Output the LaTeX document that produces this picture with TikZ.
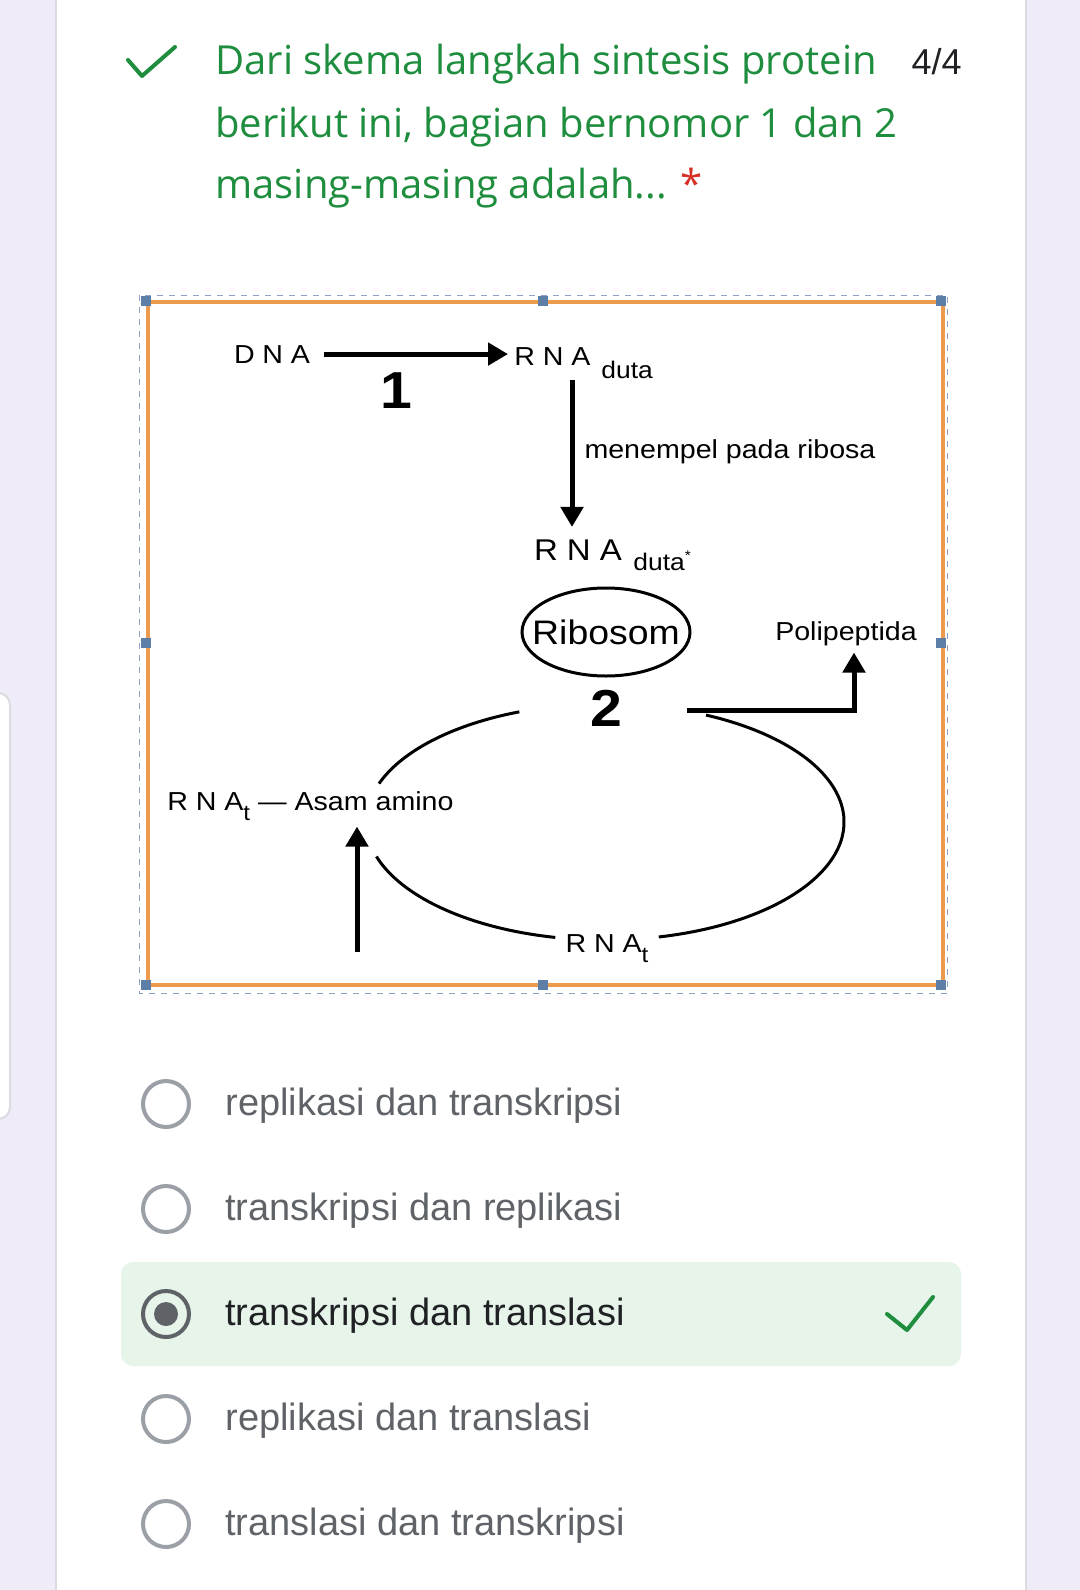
\documentclass[tikz,border=0pt]{standalone}
\usepackage{fontspec}
\setmainfont{Open Sans}
\newfontfamily\uifont{Liberation Sans}
\newfontfamily\diafont[FakeStretch=1.1]{Liberation Sans}
\newfontfamily\diaspaced[FakeStretch=1.1,LetterSpace=30]{Liberation Sans}
\usetikzlibrary{arrows.meta, shapes.geometric}

\definecolor{fondviolet}{HTML}{F0EBF8}
\definecolor{bordcarte}{HTML}{DADCE0}
\definecolor{vert}{HTML}{1E8E3E}
\definecolor{vertclair}{HTML}{E6F4EA}
\definecolor{rouge}{HTML}{D93025}
\definecolor{encre}{HTML}{202124}
\definecolor{grisopt}{HTML}{5F6368}
\definecolor{grisradio}{HTML}{9AA0A6}
\definecolor{cadreorange}{HTML}{EE9A4D}
\definecolor{poignee}{HTML}{5D7EA7}
\definecolor{pointille}{HTML}{8CA3C4}

\tikzset{
  titre/.style={anchor=base west, inner sep=0pt, text=vert, font=\fontsize{20}{24}\selectfont},
  choix/.style={anchor=base west, inner sep=0pt, text=grisopt, font=\uifont\fontsize{19}{22}\selectfont},
  radio/.style={circle, draw=grisradio, line width=2pt, minimum size=23pt, inner sep=0pt},
  etiq/.style={font=\diafont\fontsize{13}{15}\selectfont, inner sep=3pt},
  petit/.style={font=\diafont\fontsize{12}{14}\selectfont, inner sep=0pt, anchor=base west},
  chiffre/.style={font=\diafont\bfseries\fontsize{26}{30}\selectfont, inner sep=0pt},
  fleche/.style={line width=2.5pt, -{Triangle[length=10pt,width=11pt]}}
}

\begin{document}
\begin{tikzpicture}[x=0.5pt, y=-0.5pt]
    \useasboundingbox (0,0) rectangle (1080,1590);
    % Fond et carte
    \fill[fondviolet] (0,0) rectangle (1080,1590);
    \fill[white] (56,0) rectangle (1026,1590);
    \draw[bordcarte, line width=1pt] (56,0) -- (56,1590);
    \draw[bordcarte, line width=1pt] (1026,0) -- (1026,1590);
    \draw[bordcarte, line width=1pt, fill=white, rounded corners=6pt] (-30,693) rectangle (10,1119);

    % Question
    \draw[vert, line width=2pt, line cap=round, line join=round] (128,60) -- (142,76) -- (175,47);
    \node[titre] (q1) at (215,74) {Dari skema langkah sintesis protein};
    \node[titre] (q2) at (215,137) {berikut ini, bagian bernomor 1 dan 2};
    \node[titre] (q3) at (215,198) {masing-masing adalah... \textcolor{rouge}{*}};
    \node[anchor=base east, inner sep=0pt, text=encre, font=\uifont\fontsize{18}{21}\selectfont] (score) at (962,74) {4/4};

    % Cadre de l'image
    \draw[pointille, dashed, line width=0.5pt] (139,295) rectangle (947,993);
    \draw[cadreorange, line width=2pt] (148,302) rectangle (943,985);
    \fill[poignee] (141,296) rectangle ++(10,10);
    \fill[poignee] (538,296) rectangle ++(10,10);
    \fill[poignee] (936,296) rectangle ++(10,10);
    \fill[poignee] (141,638) rectangle ++(10,10);
    \fill[poignee] (936,638) rectangle ++(10,10);
    \fill[poignee] (141,980) rectangle ++(10,10);
    \fill[poignee] (538,980) rectangle ++(10,10);
    \fill[poignee] (936,980) rectangle ++(10,10);

    % Transkripsi
    \node[etiq, font=\diaspaced\fontsize{13}{15}\selectfont, anchor=base] (dna) at (272,363) {DNA};
    \node[etiq, font=\diaspaced\fontsize{13}{15}\selectfont, anchor=base west] (rnad) at (508,365) {RNA};
    \node[petit] (dutaA) at (601,378) {duta};
    \draw[fleche, shorten <=4pt] (dna.east) -- (dna.east -| rnad.west);
    \node[chiffre] (un) at (396,391) {1};

    % Ribosom
    \node[etiq, font=\diaspaced\fontsize{15}{17}\selectfont, anchor=base] (rnb) at (578,560) {RNA};
    \node[petit] (dutaB) at (633,570) {duta\raisebox{5pt}{\fontsize{7}{7}\selectfont*}};
    \draw[fleche, shorten <=4.5pt, shorten >=3pt] ([xshift=-3pt]rnad.south -| rnb.north) -- ([xshift=-3pt]rnb.north)
        node[etiq, midway, right, xshift=2pt] (lab1) {menempel pada ribosa};
    \node[inner sep=0pt, font=\diafont\fontsize{17}{19}\selectfont] (ribo) at (606,632) {Ribosom};
    \draw[line width=1.5pt] (ribo.center) ellipse (84 and 44);
    \node[etiq] (poli) at (846,634) {Polipeptida};
    \node[chiffre] (deux) at (606,708) {2};
    \coordinate (depart) at (687,710);
    \draw[fleche] (depart) -| ([xshift=4pt]poli.south);

    % Siklus RNA t
    \coordinate (centre) at (605,822);
    \draw[line width=1.5pt] ([shift={(-111:239 and 118)}]centre) arc[start angle=-111, end angle=-161, x radius=239, y radius=118];
    \draw[line width=1.5pt] ([shift={(-197:239 and 118)}]centre) arc[start angle=-197, end angle=-258, x radius=239, y radius=118];
    \draw[line width=1.5pt] ([shift={(-283:239 and 118)}]centre) arc[start angle=-283, end angle=-425, x radius=239, y radius=118];
    \node[etiq, anchor=base] (rnat) at (607,952) {{\diaspaced RNA}\raisebox{-5pt}{\fontsize{11}{11}\selectfont t}};
    \node[etiq, anchor=base west] (amino) at (161,810) {{\diaspaced RNA}\raisebox{-5pt}{\fontsize{11}{11}\selectfont t} — Asam amino};
    \coordinate (bas) at (357,952);
    \draw[fleche] (bas) -- (bas |- amino.south);

    % Pilihan jawaban
    \fill[vertclair, rounded corners=6pt] (121,1262) rectangle (961,1366);
    \node[radio] (r1) at (166,1104) {};
    \node[choix] (c1) at (225,1115) {replikasi dan transkripsi};
    \node[radio] (r2) at (166,1209) {};
    \node[choix] (c2) at (225,1220) {transkripsi dan replikasi};
    \node[radio, draw=grisopt] (r3) at (166,1314) {};
    \node[circle, fill=grisopt, minimum size=12pt, inner sep=0pt] (p3) at (r3) {};
    \node[choix, text=encre] (c3) at (225,1325) {transkripsi dan translasi};
    \draw[vert, line width=2pt, line cap=round, line join=round] (887,1314) -- (907,1330) -- (933,1297);
    \node[radio] (r4) at (166,1419) {};
    \node[choix] (c4) at (225,1430) {replikasi dan translasi};
    \node[radio] (r5) at (166,1524) {};
    \node[choix] (c5) at (225,1535) {translasi dan transkripsi};
\end{tikzpicture}
\end{document}
